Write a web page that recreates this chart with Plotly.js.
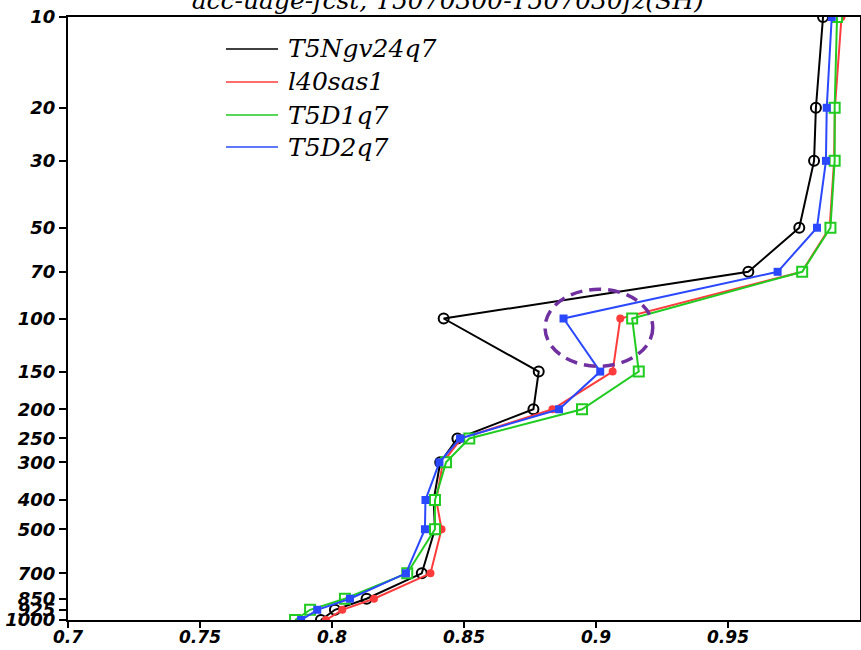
<!DOCTYPE html>
<html>
<head>
<meta charset="utf-8">
<script src="https://cdn.plot.ly/plotly-3.0.1.min.js"></script>
<style>html,body{margin:0;padding:0;background:#fff;}#chart{width:861px;height:650px;}</style>
</head>
<body>
<div id="chart"></div>
<script>
// Pressure levels (hPa)
const levels = [10, 20, 30, 50, 70, 100, 150, 200, 250, 300, 400, 500, 700, 850, 925, 1000];
const levelLabels = ["10","20","30","50","70","100","150","200","250","300","400","500","700","850","925","1000"];

// Series values (anomaly correlation)
const seriesNames = ["T5Ngv24q7", "l40sas1", "T5D1q7", "T5D2q7"];
const T5Ngv24q7 = [0.986, 0.9833, 0.9826, 0.977, 0.9577, 0.8423, 0.8783, 0.8763, 0.8475, 0.841, 0.8385, 0.839, 0.834, 0.8131, 0.8011, 0.7958];
const l40sas1   = [0.993, 0.9905, 0.9902, 0.9885, 0.978, 0.9092, 0.9063, 0.8835, 0.849, 0.842, 0.8395, 0.8415, 0.8373, 0.8159, 0.8039, 0.7977];
const T5D1q7    = [0.9913, 0.9904, 0.9904, 0.9888, 0.9781, 0.9137, 0.9162, 0.8947, 0.852, 0.8432, 0.839, 0.839, 0.8285, 0.8049, 0.7917, 0.786];
const T5D2q7    = [0.9893, 0.9874, 0.9871, 0.9837, 0.9688, 0.8877, 0.9016, 0.886, 0.8485, 0.8407, 0.8354, 0.8352, 0.828, 0.8068, 0.7944, 0.7883];

const xTicks = [0.7, 0.75, 0.8, 0.85, 0.9, 0.95];
const xTickLabels = ["0.7", "0.75", "0.8", "0.85", "0.9", "0.95"];

const colors = ["#000000", "#ff3b3b", "#1fcc1f", "#2a48ff"];
const seriesData = [T5Ngv24q7, l40sas1, T5D1q7, T5D2q7];
const markerStyles = [
  {symbol: "circle-open", size: 10, line: {width: 2}},
  {symbol: "circle", size: 8},
  {symbol: "square-open", size: 10, line: {width: 2}},
  {symbol: "square", size: 8}
];

const traces = seriesData.map((vals, i) => ({
  type: "scatter",
  mode: "lines+markers",
  name: seriesNames[i],
  x: vals,
  y: levels,
  line: {color: colors[i], width: 2},
  marker: Object.assign({color: colors[i]}, markerStyles[i],
    (markerStyles[i].symbol.indexOf("open") >= 0) ? {line: {width: 2, color: colors[i]}} : {}),
  showlegend: false,
  cliponaxis: true
}));
// white fill behind open markers
[0, 2].forEach(i => {
  traces.push({
    type: "scatter", mode: "markers", x: seriesData[i], y: levels, showlegend: false,
    marker: {symbol: i === 0 ? "circle" : "square", size: 9, color: "#ffffff"},
    hoverinfo: "skip"
  });
});
const ordered = [traces[4], traces[0], traces[1], traces[5], traces[2], traces[3]];

const L = 68, R = 860, T = 17, B = 620;
const px = v => (v - L) / (R - L);
const py = v => (B - v) / (B - T);

const legendRows = [49, 82, 115, 147];
const shapes = [];
const annotations = [];
seriesNames.forEach((n, i) => {
  shapes.push({type: "line", xref: "paper", yref: "paper",
    x0: px(226), x1: px(278), y0: py(legendRows[i]), y1: py(legendRows[i]),
    line: {color: colors[i], width: 1.5}});
  annotations.push({xref: "paper", yref: "paper", x: px(286), y: py(legendRows[i]),
    xanchor: "left", yanchor: "middle", showarrow: false, text: n,
    font: {family: "DejaVu Serif", size: 25, style: "italic", color: "#000"}});
});
// highlight ellipse
shapes.push({type: "circle", xref: "x", yref: "y", x0: 0.8807, x1: 0.9215, y0: 80, y1: 144,
  line: {color: "#7030a0", width: 3.5, dash: "12px,7px"}, fillcolor: "rgba(0,0,0,0)"});

const layout = {
  width: 861, height: 650,
  margin: {l: L, r: 861 - R, t: T, b: 650 - B, pad: 0},
  paper_bgcolor: "#fff", plot_bgcolor: "#fff",
  title: {text: "acc-uage-fcst, T5070300-T507030fz(SH)", x: 0.52, xanchor: "center",
    yref: "container", y: 1.0, yanchor: "middle",
    font: {family: "DejaVu Serif", size: 25, style: "italic", color: "#000"}},
  xaxis: {range: [0.7, 1.0], tickvals: xTicks, ticktext: xTickLabels,
    showgrid: false, zeroline: false, showline: true, linecolor: "#000", linewidth: 2,
    mirror: true, ticks: "outside", ticklen: 6, tickwidth: 2, tickcolor: "#000",
    ticklabelstandoff: -5,
    tickfont: {family: "DejaVu Sans", size: 17, weight: "bold", style: "italic", color: "#000"}},
  yaxis: {type: "log", range: [3, 1], tickvals: levels, ticktext: levelLabels,
    showgrid: false, zeroline: false, showline: true, linecolor: "#000", linewidth: 2,
    mirror: true, ticks: "outside", ticklen: 7, tickwidth: 2, tickcolor: "#000",
    tickfont: {family: "DejaVu Sans", size: 18, weight: "bold", style: "italic", color: "#000"}},
  shapes: shapes,
  annotations: annotations,
  showlegend: false
};

Plotly.newPlot("chart", ordered, layout, {displayModeBar: false, staticPlot: true});
</script>
</body>
</html>
